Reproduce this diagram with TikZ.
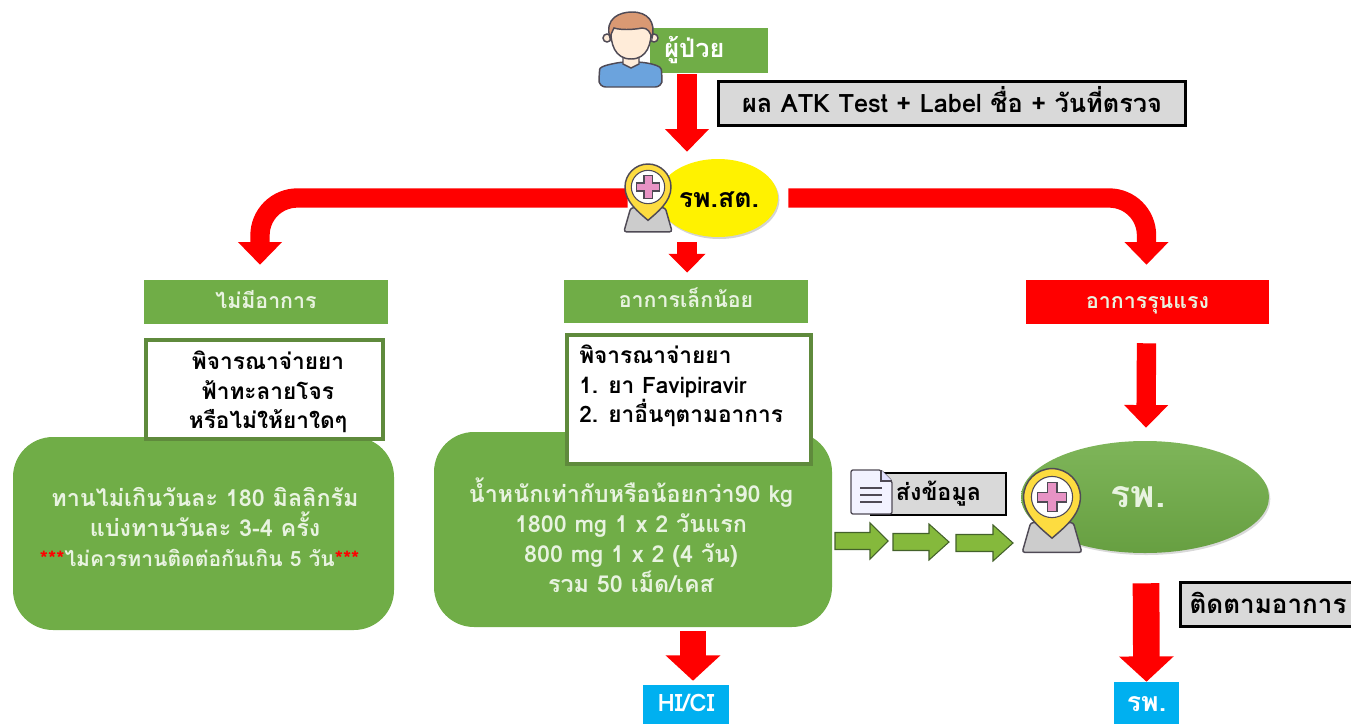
\documentclass[tikz,border=0pt]{standalone}
\usepackage{fontspec}
\setmainfont[Script=Thai]{Loma}
\usetikzlibrary{arrows.meta,shapes.geometric,shadows,calc}
\definecolor{lgreen}{HTML}{70AD47}
\definecolor{dgreen}{HTML}{5F8A3C}
\definecolor{ltxt}{HTML}{E8F3E0}
\definecolor{skyb}{HTML}{00B0F0}
\definecolor{grayb}{HTML}{D9D9D9}
\definecolor{icon}{HTML}{4F4A55}
\tikzset{
  greenbar/.style={fill=lgreen,draw=none,inner sep=0pt,text=ltxt,text height=11pt,text depth=2pt,font=\bfseries\fontsize{16}{18}\selectfont},
  redbar/.style={greenbar,fill=red},
  graybox/.style={fill=grayb,draw=black,line width=2.25pt,inner sep=0pt,text height=14pt,text depth=0pt,font=\bfseries\fontsize{19}{22}\selectfont},
  whitebox/.style={fill=white,draw=dgreen,line width=3pt,inner sep=0pt},
  bluebox/.style={fill=skyb,inner sep=0pt,text=white,text height=12pt,text depth=1pt},
  softbox/.style={fill=lgreen,rounded corners=30pt,inner sep=0pt},
  softtxt/.style={text=ltxt,align=center,inner sep=0pt,font=\bfseries\fontsize{17.5}{22.5}\selectfont},
  boxtxt/.style={text=black,inner sep=0pt,font=\bfseries\fontsize{17}{22}\selectfont},
  bigred/.style={draw=red,line width=14.5pt,line cap=butt,-{Triangle[length=17pt,width=32pt]}},
  widered/.style={draw=red,line width=20pt,line cap=butt,-{Triangle[length=19pt,width=40pt]}},
  curvered/.style={bigred,rounded corners=28pt},
  minigreen/.style={fill=lgreen!85!yellow,draw=dgreen!70!black,line width=.8pt},
  pinicon/.pic={
    \draw[fill=grayb!85!gray,draw=icon,line width=1.1pt,rounded corners=2pt] (-21,39)--(-15,18)--(15,18)--(21,39)--cycle;
    \draw[fill=yellow!70!orange!75!white,draw=icon,line width=1.1pt] (0,29) .. controls (-8,22) and (-20,13) .. (-20,0) arc[start angle=180,end angle=360,radius=20] .. controls (20,13) and (8,22) .. (0,29) -- cycle;
    \fill[white,draw=icon,line width=.8pt] (0,0) circle[radius=14.5];
    \draw[fill=magenta!45!white!85!gray,draw=icon,line width=.8pt] (-3.5,-10)--(3.5,-10)--(3.5,-3.5)--(10,-3.5)--(10,3.5)--(3.5,3.5)--(3.5,10)--(-3.5,10)--(-3.5,3.5)--(-10,3.5)--(-10,-3.5)--(-3.5,-3.5)--cycle;
  },
}
\begin{document}
\begin{tikzpicture}[x=.75pt,y=-.75pt]
\path[use as bounding box] (0,0) rectangle (1351,724);

% nodes
\node[greenbar,minimum width=88.5pt,minimum height=33.75pt,text height=13pt,text depth=2pt,font=\bfseries\fontsize{19}{20}\selectfont,text=white] (patient) at (709,50.5) {\hspace{-22pt}ผู้ป่วย};
\node[graybox,minimum width=350pt,minimum height=33pt] (atk) at (952,103.5) {ผล ATK Test + Label ชื่อ + วันที่ตรวจ};
\node[ellipse,fill=yellow,inner sep=0pt,minimum width=90pt,minimum height=58.5pt,drop shadow={opacity=.35,shadow xshift=1pt,shadow yshift=-1.5pt}] (hosp) at (718,198) {};
\node[inner sep=0pt,font=\bfseries\fontsize{20}{22}\selectfont] (hosptxt) at (719,200) {รพ.สต.};

\node[greenbar,minimum width=183pt,minimum height=33pt] (nosym) at (266,302) {ไม่มีอาการ};
\node[greenbar,minimum width=183pt,minimum height=32.5pt] (mild) at (686,301.5) {อาการเล็กน้อย};
\node[redbar,minimum width=182.25pt,minimum height=33pt] (severe) at (1147.5,302) {อาการรุนแรง};

\node[softbox,minimum width=285.75pt,minimum height=144.75pt] (rndA) at (203.5,533.5) {};
\node[softbox,minimum width=298.5pt,minimum height=146.25pt] (rndB) at (633,529.5) {};
\node[whitebox,minimum width=177.75pt,minimum height=74.25pt] (boxA) at (264.5,389.5) {};
\node[whitebox,minimum width=183pt,minimum height=96.75pt] (boxB) at (689,399.5) {};

\node[boxtxt,align=center] (boxAt) at (268,392) {พิจารณาจ่ายยา\\ฟ้าทะลายโจร\\หรือไม่ให้ยาใดๆ};
\node[boxtxt,align=left,anchor=north west] (boxBt) at (579,345) {พิจารณาจ่ายยา\\1. ยา Favipiravir\\2. ยาอื่นๆตามอาการ};
\node[softtxt] (rndAt) at (205,527) {ทานไม่เกินวันละ 180 มิลลิกรัม\\แบ่งทานวันละ 3-4 ครั้ง\\{\fontsize{15.8}{22.5}\selectfont\textcolor{red}{***}ไม่ควรทานติดต่อกันเกิน 5 วัน\textcolor{red}{***}\kern8pt}};
\node[softtxt] (rndBt) at (631,535) {น้ำหนักเท่ากับหรือน้อยกว่า90 kg\\1800 mg 1 x 2 วันแรก\\800 mg 1 x 2 (4 วัน)\\รวม 50 เม็ด/เคส};

\node[ellipse,top color=lgreen!90!white,bottom color=lgreen!92!black,inner sep=0pt,minimum width=186pt,minimum height=84pt,drop shadow={opacity=.3,shadow xshift=1pt,shadow yshift=-1.5pt}] (rph) at (1145,497) {};
\node[inner sep=0pt,text=ltxt,font=\bfseries\fontsize{28}{30}\selectfont] (rphtxt) at (1138,497) {รพ.};
\node[graybox,minimum width=101pt,minimum height=31pt,line width=1.5pt,text height=12pt,text depth=2pt,font=\bfseries\fontsize{17.5}{18}\selectfont] (send) at (938.5,494) {ส่งข้อมูล};
\node[graybox,minimum width=130pt,minimum height=33.5pt,anchor=west,font=\bfseries\fontsize{19.5}{22}\selectfont] (follow) at (1178.5,604.5) {\hspace{2pt}ติดตามอาการ};
\node[bluebox,minimum width=64.5pt,minimum height=29.25pt,font=\bfseries\fontsize{18}{19}\selectfont] (hici) at (686,704.5) {HI/CI};
\node[bluebox,minimum width=48.75pt,minimum height=31.5pt,text depth=0pt,font=\bfseries\fontsize{20}{22}\selectfont] (rphb) at (1146.5,703) {รพ.};

% connectors
\draw[bigred] ([shift={(-22,1)}]patient.south) -- ([shift={(-31,-7)}]hosp.north);
\draw[curvered] ([shift={(-30,0)}]hosp.west) -| ([shift={(-6,-15)}]nosym.north);
\draw[curvered] ([shift={(10,0)}]hosp.east) -| ([shift={(-1,-15)}]severe.north);
\draw[bigred,-{Triangle[length=14pt,width=27pt]}] ([shift={(-31,5)}]hosp.south) -- ([shift={(1,-7)}]mild.north);
\draw[bigred] ([shift={(-1,19)}]severe.south) -- ([shift={(1,-13)}]rph.north);
\draw[widered] ([shift={(60,4)}]rndB.south) -- ([shift={(7,-4)}]hici.north);
\draw[widered] ([shift={(1,30)}]rph.south) -- (rphb.north);

% small block arrows between the box and the hospital
\foreach \xa/\xb/\xc/\yy in {835/870/888/541, 893/929/949/542, 956/993/1013/543}{
  \draw[minigreen] (\xa,\yy-8.5) -- (\xb,\yy-8.5) -- (\xb,\yy-18) -- (\xc,\yy) -- (\xb,\yy+18) -- (\xb,\yy+8.5) -- (\xa,\yy+8.5) -- cycle;
}

% document icon
\draw[fill=blue!5!white,draw=icon,line width=1pt,rounded corners=1.5pt] (851,470) -- (881,470) -- (892,481) -- (892,514) -- (851,514) -- cycle;
\draw[fill=blue!12!white,draw=icon,line width=.8pt] (881,470) -- (881,481) -- (892,481);
\draw[draw=icon,line width=1.2pt] (860,488) -- (882,488) (860,495) -- (882,495) (860,502) -- (882,502);

% pins
\pic[scale=1.15,transform shape] at (648,187) {pinicon};
\pic[scale=1.42,transform shape] at (1052,497) {pinicon};

% person
\draw[fill=cyan!60!blue!60!white,draw=icon,line width=1.1pt,rounded corners=5pt] (599,87) -- (599,76) .. controls (600,66) and (612,64) .. (620,62) -- (642,62) .. controls (652,64) and (661,66) .. (662,76) -- (662,87) -- cycle;
\draw[fill=orange!15!white,draw=icon,line width=1.1pt] (623,55) -- (623,64) -- (631,68) -- (639,64) -- (639,55) -- cycle;
\draw[fill=orange!15!white,draw=icon,line width=1.1pt] (607,38) circle[radius=4] (654,38) circle[radius=4];
\draw[fill=orange!15!white,draw=icon,line width=1.1pt] (631,59) .. controls (615,59) and (610,44) .. (611,28) -- (651,28) .. controls (652,44) and (647,59) .. (631,59) -- cycle;
\draw[fill=brown!60!pink,draw=icon,line width=1.1pt] (610,38) .. controls (604,18) and (620,12) .. (632,12) .. controls (648,12) and (656,22) .. (652,38) .. controls (650,32) and (648,28) .. (642,28) .. controls (632,30) and (620,30) .. (614,28) .. controls (612,32) and (611,34) .. (610,38) -- cycle;
\end{tikzpicture}
\end{document}
